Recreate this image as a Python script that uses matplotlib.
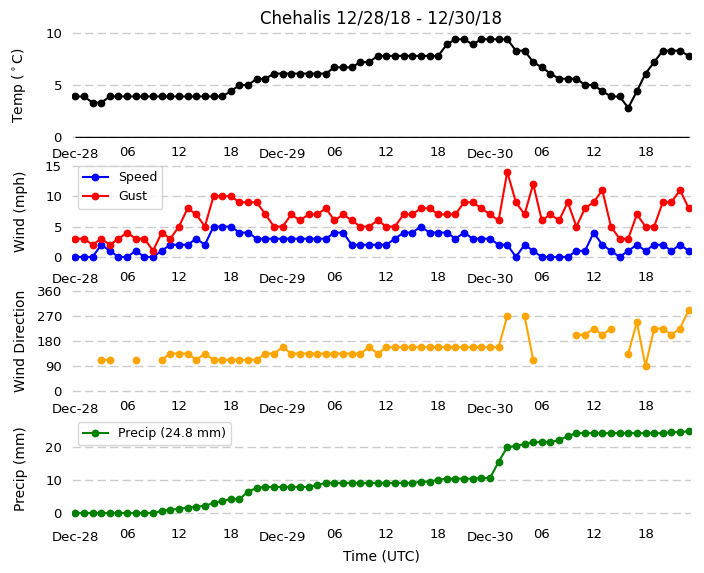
import pandas as pd
import numpy as np
import matplotlib
matplotlib.use('Agg')
import matplotlib.pyplot as plt
import matplotlib.dates as mdates

# hourly observations, Dec 28 00Z through Dec 30 23Z
times = pd.date_range('2018-12-28 00:00', periods=72, freq='h')

temp_c = [3.9, 3.9, 3.3, 3.3, 3.9, 3.9, 3.9, 3.9, 3.9, 3.9, 3.9, 3.9,
          3.9, 3.9, 3.9, 3.9, 3.9, 3.9, 4.4, 5.0, 5.0, 5.6, 5.6, 6.1,
          6.1, 6.1, 6.1, 6.1, 6.1, 6.1, 6.7, 6.7, 6.7, 7.2, 7.2, 7.8,
          7.8, 7.8, 7.8, 7.8, 7.8, 7.8, 7.8, 8.9, 9.4, 9.4, 8.9, 9.4,
          9.4, 9.4, 9.4, 8.3, 8.3, 7.2, 6.7, 6.1, 5.6, 5.6, 5.6, 5.0,
          5.0, 4.4, 3.9, 3.9, 2.8, 4.4, 6.1, 7.2, 8.3, 8.3, 8.3, 7.8]

speed = [0, 0, 0, 2, 1, 0, 0, 1, 0, 0, 1, 2,
         2, 2, 3, 2, 5, 5, 5, 4, 4, 3, 3, 3,
         3, 3, 3, 3, 3, 3, 4, 4, 2, 2, 2, 2,
         2, 3, 4, 4, 5, 4, 4, 4, 3, 4, 3, 3,
         3, 2, 2, 0, 2, 1, 0, 0, 0, 0, 1, 1,
         4, 2, 1, 0, 1, 2, 1, 2, 2, 1, 2, 1]

gust = [3, 3, 2, 3, 2, 3, 4, 3, 3, 1, 4, 3,
        5, 8, 7, 5, 10, 10, 10, 9, 9, 9, 7, 5,
        5, 7, 6, 7, 7, 8, 6, 7, 6, 5, 5, 6,
        5, 5, 7, 7, 8, 8, 7, 7, 7, 9, 9, 8,
        7, 6, 14, 9, 7, 12, 6, 7, 6, 9, 5, 8,
        9, 11, 5, 3, 3, 7, 5, 5, 9, 9, 11, 8]

nan = np.nan
direction = [nan, nan, nan, 112.5, 112.5, nan, nan, 112.5, nan, nan, 112.5, 135,
             135, 135, 112.5, 135, 112.5, 112.5, 112.5, 112.5, 112.5, 112.5, 135, 135,
             157.5, 135, 135, 135, 135, 135, 135, 135, 135, 135, 157.5, 135,
             157.5, 157.5, 157.5, 157.5, 157.5, 157.5, 157.5, 157.5, 157.5, 157.5, 157.5, 157.5,
             157.5, 157.5, 270, nan, 270, 112.5, nan, nan, nan, nan, 202.5, 202.5,
             225, 202.5, 225, nan, 135, 247.5, 90, 225, 225, 202.5, 225, 292.5]

precip = [0, 0, 0, 0, 0, 0, 0, 0, 0, 0, 0.6, 1.0,
          1.3, 1.6, 1.9, 2.2, 3.0, 3.7, 4.2, 4.2, 6.5, 7.6, 7.9, 7.9,
          7.9, 7.9, 7.9, 7.9, 8.5, 9.1, 9.1, 9.1, 9.1, 9.1, 9.1, 9.1,
          9.1, 9.1, 9.1, 9.1, 9.5, 9.5, 10.1, 10.4, 10.4, 10.4, 10.4, 10.6,
          10.6, 15.5, 20.0, 20.3, 20.9, 21.5, 21.5, 21.5, 22.1, 23.3, 24.2, 24.2,
          24.2, 24.2, 24.2, 24.2, 24.2, 24.2, 24.2, 24.2, 24.2, 24.5, 24.5, 24.8]

plt.rcParams['font.family'] = 'DejaVu Sans'
plt.rcParams['font.size'] = 9

fig = plt.figure(figsize=(7.04, 5.73), dpi=100)
H = 573.0
W = 704.0
left, right = 71.7 / W, 690.5 / W
# (top, bottom) pixel rows of each panel
rows = [(32.0, 138.0), (160.0, 263.0), (289.6, 393.0), (416.0, 521.0)]
axes = []
for top, bot in rows:
    ax = fig.add_axes([left, 1 - bot / H, right - left, (bot - top) / H])
    axes.append(ax)

ms = 4.6
lw = 1.5
pad = pd.Timedelta(minutes=25)


def style(ax):
    for s in ax.spines.values():
        s.set_visible(False)
    ax.grid(axis='y', color='#cccccc', linestyle=(0, (6, 3)), linewidth=1)
    ax.set_axisbelow(True)
    ax.xaxis.set_major_locator(mdates.DayLocator())
    ax.xaxis.set_major_formatter(mdates.DateFormatter('%b-%d'))
    ax.xaxis.set_minor_locator(mdates.HourLocator(byhour=[6, 12, 18]))
    ax.xaxis.set_minor_formatter(mdates.DateFormatter('%H'))
    ax.tick_params(axis='both', which='both', color='white', labelsize=9.5)
    ax.tick_params(axis='x', which='major', length=3.5)
    ax.tick_params(axis='x', which='minor', length=2)
    ax.set_xlim(times[0] - pad, times[-1] + pad / 2)
    ax.yaxis.set_label_coords(-0.071, 0.5)


ax = axes[0]
ax.plot(times, temp_c, 'k-o', lw=lw, ms=ms)
ax.hlines(0, times[0], times[-1], color='black', lw=1)
ax.set_ylim(-0.1, 10.1)
ax.set_yticks([0, 5, 10])
ax.set_ylabel(r'Temp ($^\circ$C)', fontsize=10)
ax.set_title('Chehalis 12/28/18 - 12/30/18', fontsize=12)
style(ax)

ax = axes[1]
ax.plot(times, speed, '-o', color='blue', lw=lw, ms=ms, label='Speed')
ax.plot(times, gust, '-o', color='red', lw=lw, ms=ms, label='Gust')
ax.set_ylim(-1, 15.95)
ax.set_yticks([0, 5, 10, 15])
ax.set_ylabel('Wind (mph)', fontsize=10)
ax.legend(loc='upper left', fontsize=9)
style(ax)

ax = axes[2]
ax.plot(times, direction, '-o', color='orange', lw=lw, ms=ms)
ax.set_ylim(-7, 365)
ax.set_yticks([0, 90, 180, 270, 360])
ax.set_ylabel('Wind Direction', fontsize=10)
style(ax)

ax = axes[3]
ax.plot(times, precip, '-o', color='green', lw=lw, ms=ms,
        label='Precip (%.1f mm)' % precip[-1])
ax.set_ylim(-2.42, 29.4)
ax.set_yticks([0, 10, 20])
ax.set_ylabel('Precip (mm)', fontsize=10)
ax.set_xlabel('Time (UTC)', fontsize=10)
ax.legend(loc='upper left', fontsize=9)
style(ax)

fig.savefig('out.png', dpi=100)
